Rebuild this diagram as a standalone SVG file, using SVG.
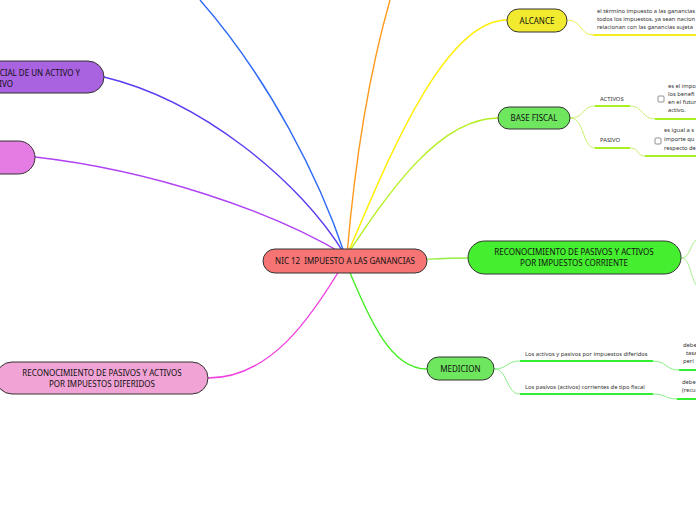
<svg xmlns="http://www.w3.org/2000/svg" width="696" height="520" viewBox="0 0 696 520">
<style>
.n{stroke:#333;stroke-width:1}
.t{font-family:"Noto Sans","Open Sans",sans-serif;font-size:8px;fill:#111;text-anchor:middle}
.s{font-family:"Noto Sans","Open Sans",sans-serif;font-size:5.8px;fill:#333}
.c{fill:none;stroke-width:1.4}
.b{fill:none;stroke-width:1}
.u{fill:none;stroke-width:2}
.cb{fill:#fff;stroke:#777;stroke-width:0.8}
</style>
<rect width="696" height="520" fill="#fff"/>
<g id="connectors">
<path class="c" stroke="#2F6BF5" d="M345,255 C320,180 270,80 200,0"/>
<path class="c" stroke="#5B3CF2" d="M104,77 C200,100 300,180 345,255"/>
<path class="c" stroke="#B043F5" d="M35,157 C150,170 270,210 345,255"/>
<path class="c" stroke="#FF9A1F" d="M347,255 C355,160 370,70 390,0"/>
<path class="c" stroke="#FFEE00" d="M347,255 C380,180 440,20 507,20"/>
<path class="c" stroke="#B4F024" d="M347,255 C390,190 440,118 498,118"/>
<path class="c" stroke="#96EE44" d="M345,261 C420,261 430,258 468,258"/>
<path class="c" stroke="#44EE22" d="M345,261 C370,320 390,369 427,369"/>
<path class="c" stroke="#F040E0" d="M345,261 C310,320 270,378 208,378"/>
<path class="b" stroke="#EEEE50" d="M567,20 C582,20 580,35 593,35"/>
<path class="u" stroke="#F2EE20" d="M593,35 H696"/>
<path class="b" stroke="#C8F070" d="M570,118 C585,118 582,106 595,106 M570,118 C585,118 582,148 595,148"/>
<path class="u" stroke="#A8F020" d="M595,106 H630 M595,148 H630"/>
<path class="b" stroke="#C8F070" d="M630,106 C643,106 642,119 655,119 M630,148 C640,148 636,156 645,156"/>
<path class="u" stroke="#A8F020" d="M655,119 H696 M645,156 H696"/>
<path class="b" stroke="#A8F090" d="M681,258 C690,258 690,245 696,240 M681,258 C690,258 690,275 696,285"/>
<path class="b" stroke="#88EE88" d="M494,369 C508,369 506,361 520,361 M494,369 C508,369 506,394 520,394"/>
<path class="u" stroke="#33EE33" d="M520,361 H653 M520,394 H653"/>
<path class="b" stroke="#88EE88" d="M653,361 C667,361 665,370 679,370 M653,394 C666,394 665,399 677,399"/>
<path class="u" stroke="#33EE33" d="M679,370 H696 M677,399 H696"/>
</g>
<g id="center">
<rect class="n" x="263" y="249" width="164" height="24" rx="12" fill="#F67474"/>
<text class="t" x="345" y="264">NIC 12&#160; IMPUESTO A LAS GANANCIAS</text>
</g>
<g id="alcance">
<rect class="n" x="507" y="9" width="60" height="23" rx="11.5" fill="#F2EA2E"/>
<text class="t" x="537" y="23.5">ALCANCE</text>
<text class="s" x="597" y="13">el término impuesto a las ganancias</text>
<text class="s" x="597" y="21">todos los impuestos, ya sean nacion</text>
<text class="s" x="597" y="29">relacionan con las ganancias sujeta</text>
</g>
<g id="base-fiscal">
<rect class="n" x="498" y="107" width="72" height="22" rx="11" fill="#6EE65E"/>
<text class="t" x="534" y="121">BASE FISCAL</text>
</g>
<g id="activos">
<text class="s" x="600" y="101">ACTIVOS</text>
<rect class="cb" x="658" y="96" width="6" height="6" rx="1"/>
<text class="s" x="668" y="88">es el impo</text>
<text class="s" x="668" y="96">los benefi</text>
<text class="s" x="668" y="104">en el futur</text>
<text class="s" x="668" y="112">activo.</text>
</g>
<g id="pasivo">
<text class="s" x="600" y="142">PASIVO</text>
<rect class="cb" x="655" y="138" width="6" height="6" rx="1"/>
<text class="s" x="664" y="132">es igual a s</text>
<text class="s" x="664" y="141">importe qu</text>
<text class="s" x="664" y="150">respecto de</text>
</g>
<g id="reconocimiento-corriente">
<rect class="n" x="468" y="241" width="213" height="33" rx="16.5" fill="#45EE2E"/>
<text class="t" x="574" y="255">RECONOCIMIENTO DE PASIVOS Y ACTIVOS</text>
<text class="t" x="574" y="266">POR IMPUESTOS CORRIENTE</text>
</g>
<g id="medicion">
<rect class="n" x="427" y="357" width="67" height="23" rx="11.5" fill="#6EE65E"/>
<text class="t" x="460.5" y="371.5">MEDICION</text>
<text class="s" x="525" y="356">Los activos y pasivos por impuestos diferidos</text>
<text class="s" x="525" y="389">Los pasivos (activos) corrientes de tipo fiscal</text>
<text class="s" x="683" y="347">debe</text>
<text class="s" x="686" y="355">tasa</text>
<text class="s" x="683" y="363">perí</text>
<text class="s" x="682" y="384">debe</text>
<text class="s" x="682" y="392">(recu</text>
</g>
<g id="reconocimiento-diferidos">
<rect class="n" x="-4" y="362" width="212" height="32" rx="16" fill="#F0A3D4"/>
<text class="t" x="102" y="376">RECONOCIMIENTO DE PASIVOS Y ACTIVOS</text>
<text class="t" x="102" y="387">POR IMPUESTOS DIFERIDOS</text>
</g>
<g id="activo-pasivo">
<rect class="n" x="-100" y="61" width="204" height="32" rx="16" fill="#A962E0"/>
<text class="t" x="80" y="76" style="text-anchor:end">CIAL DE UN ACTIVO Y</text>
<text class="t" x="13" y="87" style="text-anchor:end">IVO</text>
</g>
<g id="pink-node">
<rect class="n" x="-100" y="141" width="135" height="33" rx="16.5" fill="#E47CE4"/>
</g>
</svg>
